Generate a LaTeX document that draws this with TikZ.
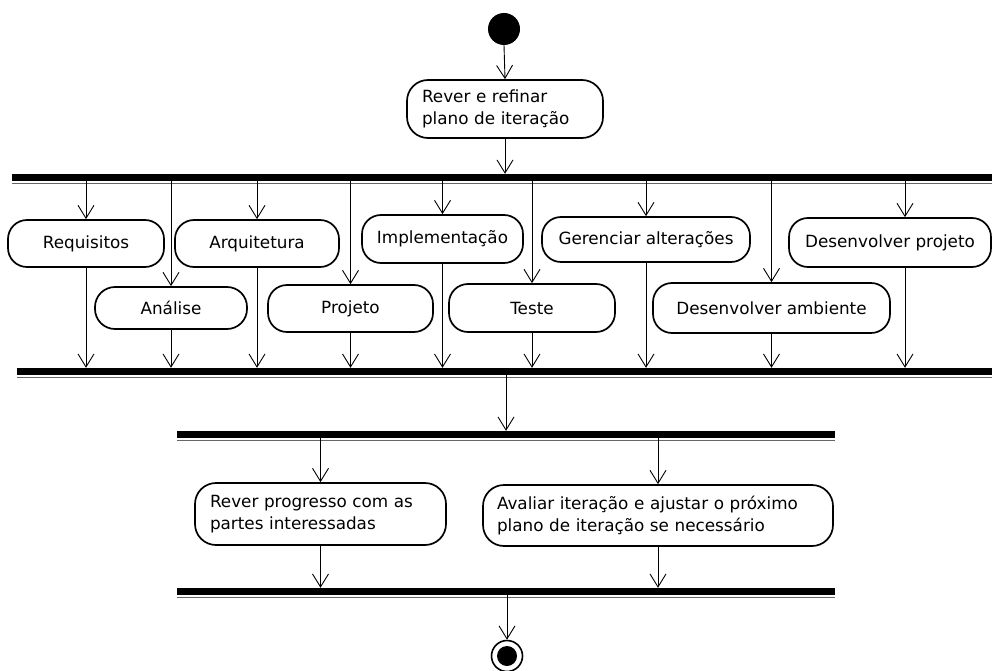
\documentclass[tikz,border=0pt]{standalone}
\usepackage{fontspec}
\setmainfont{DejaVu Sans}
\usetikzlibrary{arrows.meta}
\begin{document}
\begin{tikzpicture}[x=1pt,y=-1pt,
  act/.style={draw, line width=1.7pt, rounded corners=19pt, fill=white, inner sep=0pt,
    font=\fontsize{16.8}{21.5}\selectfont},
  multi/.style={act, align=left, rounded corners=21pt},
  bar/.style={fill=black, inner sep=0pt, minimum height=7pt},
  barline/.style={line width=1pt, black!60},
  arr/.style={line width=0.9pt, -{Straight Barb[length=13pt,width=16pt,line width=0.9pt]}},
]
\useasboundingbox (0,0) rectangle (992,671);

% start
\node[circle, fill=black, minimum size=32pt, inner sep=0pt] (start) at (504,29) {};
\node[multi, text width=166pt, minimum width=196pt, minimum height=58pt] (rever) at (505,109) {Rever e refinar\\plano de iteração};

% fork 1
\node[bar, minimum width=980pt] (fork1) at (502,177.5) {};
\draw[barline] ([yshift=-2.5pt]fork1.south west) -- ([yshift=-2.5pt]fork1.south east);

% activities
\node[act, minimum width=156pt, minimum height=47pt] (req) at (86,243.5) {Requisitos};
\node[act, minimum width=152pt, minimum height=42pt, rounded corners=20pt] (ana) at (171,308) {Análise};
\node[act, minimum width=164pt, minimum height=47pt] (arq) at (257,243.5) {Arquitetura};
\node[act, minimum width=165pt, minimum height=47pt] (proj) at (350.5,308.5) {Projeto};
\node[act, minimum width=161pt, minimum height=48pt] (impl) at (442.5,239) {Implementação};
\node[act, minimum width=166pt, minimum height=48pt] (teste) at (532,308) {Teste};
\node[act, minimum width=208pt, minimum height=45pt] (ger) at (646,239.5) {Gerenciar alterações};
\node[act, minimum width=237pt, minimum height=50pt] (damb) at (771.5,308) {Desenvolver ambiente};
\node[act, minimum width=202pt, minimum height=49pt] (dproj) at (890,242.5) {Desenvolver projeto};
\coordinate (dpin) at ([xshift=15pt]dproj.north);
\coordinate (dpout) at ([xshift=15pt]dproj.south);

% join 1
\node[bar, minimum width=975pt] (join1) at (504.5,371.5) {};
\draw[barline] ([yshift=-2.5pt]join1.south west) -- ([yshift=-2.5pt]join1.south east);

% fork 2
\node[bar, minimum width=658pt] (fork2) at (506,434.5) {};
\draw[barline] ([yshift=-2.5pt]fork2.south west) -- ([yshift=-2.5pt]fork2.south east);

\node[multi, text width=221pt, minimum width=251pt, minimum height=62pt] (rp) at (320.5,514) {Rever progresso com as\\partes interessadas};
\node[multi, text width=322pt, minimum width=350pt, minimum height=61pt] (av) at (658,515.5) {Avaliar iteração e ajustar o próximo\\plano de iteração se necessário};

% join 2
\node[bar, minimum width=658pt] (join2) at (506,591.5) {};
\draw[barline] ([yshift=-2.5pt]join2.south west) -- ([yshift=-2.5pt]join2.south east);

% final
\node[circle, draw, line width=1.6pt, fill=white, minimum size=31pt, inner sep=0pt] (final) at (507,656) {};
\fill (final.center) circle (10pt);

% connectors
\draw[arr] (start.south) -- (rever.north);
\draw[arr] (rever.south) -- (fork1.north -| rever.south);
\foreach \n in {req,ana,arq,proj,impl,teste,ger,damb}{
  \draw[arr] (fork1.south -| \n.north) -- (\n.north);
  \draw[arr] (\n.south) -- (join1.north -| \n.south);
}
\draw[arr] (fork1.south -| dpin) -- (dpin);
\draw[arr] (dpout) -- (join1.north -| dpout);
\draw[arr] (join1.south -| fork2.north) -- (fork2.north);
\foreach \n in {rp,av}{
  \draw[arr] (fork2.south -| \n.north) -- (\n.north);
  \draw[arr] (\n.south) -- (join2.north -| \n.south);
}
\draw[arr] (join2.south -| final.north) -- (final.north);
\end{tikzpicture}
\end{document}
